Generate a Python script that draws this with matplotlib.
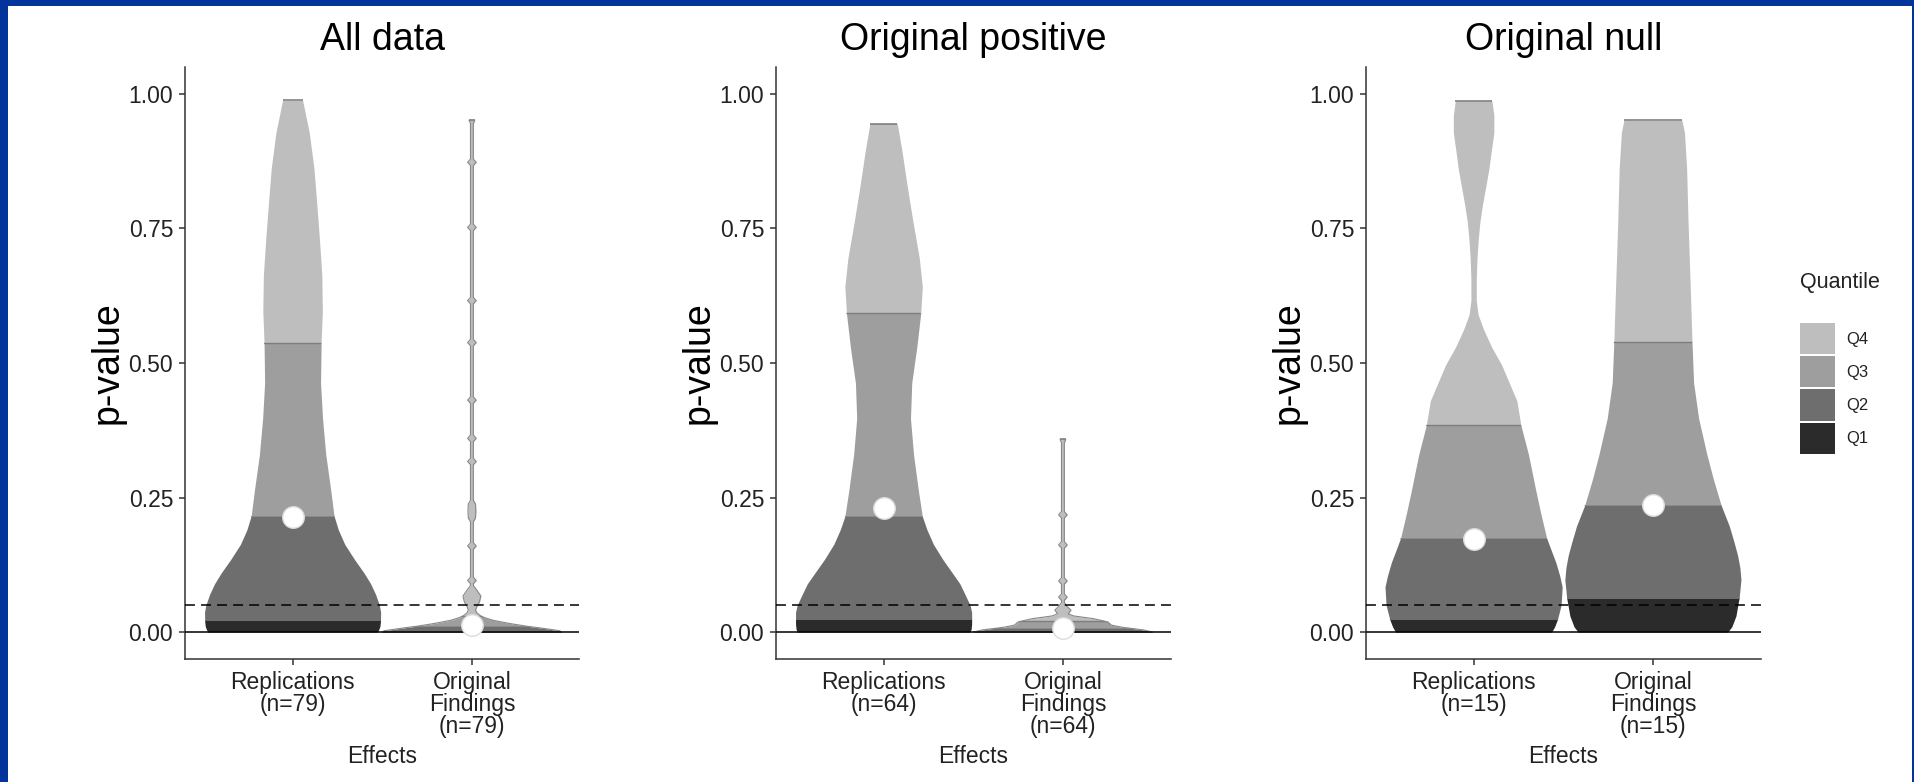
import matplotlib
matplotlib.use("Agg")
import matplotlib.pyplot as plt
from matplotlib.patches import Rectangle, Polygon, Patch
import numpy as np

plt.rcParams['font.family'] = ['Liberation Sans', 'DejaVu Sans']

# ---- data ----
panel_titles = ["All data", "Original positive", "Original null"]
group_names = [
    ["Replications\n(n=79)", "Original\nFindings\n(n=79)"],
    ["Replications\n(n=64)", "Original\nFindings\n(n=64)"],
    ["Replications\n(n=15)", "Original\nFindings\n(n=15)"],
]
quantiles = ["Q1", "Q2", "Q3", "Q4"]
q_colors = ["#2b2b2b", "#6e6e6e", "#9e9e9e", "#bebebe"]

# violin outlines: p-value levels and half widths
all_rep_p = [0.0, 0.005, 0.011, 0.020, 0.037, 0.050, 0.070, 0.090, 0.110, 0.135, 0.163, 0.190,
             0.216, 0.263, 0.330, 0.397, 0.463, 0.536, 0.596, 0.663, 0.729, 0.795, 0.862, 0.928, 0.988]
all_rep_w = [0.472, 0.481, 0.487, 0.490, 0.491, 0.484, 0.463, 0.435, 0.398, 0.345, 0.291, 0.255,
             0.231, 0.213, 0.185, 0.167, 0.156, 0.159, 0.166, 0.163, 0.150, 0.135, 0.119, 0.093, 0.056]
all_orig_p = [0.0, 0.0025, 0.007, 0.011, 0.016, 0.022, 0.027, 0.031, 0.036, 0.041, 0.047, 0.056,
              0.067, 0.078, 0.086, 0.090, 0.096, 0.102, 0.154, 0.160, 0.166, 0.205, 0.212, 0.225,
              0.238, 0.245, 0.311, 0.317, 0.323, 0.354, 0.360, 0.366, 0.425, 0.431, 0.437, 0.532,
              0.538, 0.544, 0.610, 0.616, 0.622, 0.746, 0.752, 0.758, 0.867, 0.873, 0.879, 0.945, 0.951]
all_orig_w = [0.50, 0.49, 0.397, 0.304, 0.21, 0.117, 0.07, 0.045, 0.027, 0.02, 0.027, 0.042,
              0.050, 0.027, 0.009, 0.008, 0.024, 0.008, 0.008, 0.024, 0.008, 0.008, 0.020, 0.022,
              0.020, 0.008, 0.008, 0.024, 0.008, 0.008, 0.024, 0.008, 0.008, 0.024, 0.008, 0.008,
              0.024, 0.008, 0.008, 0.024, 0.008, 0.008, 0.024, 0.008, 0.008, 0.024, 0.008, 0.008, 0.016]

pos_rep_p = [0.0, 0.005, 0.015, 0.037, 0.050, 0.070, 0.090, 0.110, 0.135, 0.163, 0.190, 0.215,
             0.263, 0.330, 0.397, 0.463, 0.529, 0.592, 0.642, 0.695, 0.762, 0.828, 0.895, 0.945]
pos_rep_w = [0.481, 0.488, 0.491, 0.491, 0.482, 0.454, 0.425, 0.383, 0.330, 0.278, 0.242, 0.216,
             0.194, 0.167, 0.150, 0.157, 0.185, 0.207, 0.216, 0.199, 0.164, 0.132, 0.102, 0.076]
pos_orig_p = [0.0, 0.004, 0.009, 0.013, 0.019, 0.025, 0.030, 0.034, 0.041, 0.048, 0.055, 0.059,
              0.065, 0.071, 0.089, 0.095, 0.101, 0.156, 0.162, 0.168, 0.212, 0.218, 0.224, 0.352, 0.358]
pos_orig_w = [0.50, 0.45, 0.33, 0.27, 0.25, 0.17, 0.06, 0.03, 0.045, 0.022, 0.008, 0.008,
              0.024, 0.008, 0.008, 0.024, 0.008, 0.008, 0.024, 0.008, 0.008, 0.024, 0.008, 0.008, 0.016]

null_rep_p = [0.0, 0.010, 0.024, 0.050, 0.084, 0.105, 0.130, 0.150, 0.175, 0.220, 0.263, 0.330,
              0.384, 0.430, 0.496, 0.530, 0.562, 0.590, 0.616, 0.655, 0.695, 0.730, 0.762, 0.795,
              0.828, 0.860, 0.895, 0.928, 0.961, 0.987]
null_rep_w = [0.435, 0.452, 0.468, 0.488, 0.494, 0.480, 0.458, 0.435, 0.407, 0.375, 0.347, 0.306,
              0.264, 0.241, 0.157, 0.100, 0.056, 0.025, 0.015, 0.015, 0.019, 0.026, 0.035, 0.050,
              0.068, 0.085, 0.099, 0.113, 0.113, 0.102]
null_orig_p = [0.0, 0.010, 0.030, 0.064, 0.097, 0.120, 0.143, 0.170, 0.197, 0.236, 0.283, 0.330,
               0.397, 0.463, 0.539, 0.663, 0.762, 0.862, 0.928, 0.951]
null_orig_w = [0.417, 0.440, 0.463, 0.481, 0.491, 0.485, 0.472, 0.450, 0.426, 0.380, 0.338, 0.301,
               0.255, 0.227, 0.218, 0.206, 0.196, 0.188, 0.176, 0.162]

# quantile cut points (Q1|Q2, Q2|Q3, Q3|Q4) and the white point
all_rep_cuts, all_rep_mid = [0.022, 0.216, 0.537], 0.213
all_orig_cuts, all_orig_mid = [0.002, 0.011, 0.030], 0.013
pos_rep_cuts, pos_rep_mid = [0.024, 0.215, 0.592], 0.230
pos_orig_cuts, pos_orig_mid = [0.002, 0.007, 0.020], 0.008
null_rep_cuts, null_rep_mid = [0.024, 0.175, 0.384], 0.173
null_orig_cuts, null_orig_mid = [0.064, 0.236, 0.539], 0.236

panels = [
    [(all_rep_p, all_rep_w, all_rep_cuts, all_rep_mid),
     (all_orig_p, all_orig_w, all_orig_cuts, all_orig_mid)],
    [(pos_rep_p, pos_rep_w, pos_rep_cuts, pos_rep_mid),
     (pos_orig_p, pos_orig_w, pos_orig_cuts, pos_orig_mid)],
    [(null_rep_p, null_rep_w, null_rep_cuts, null_rep_mid),
     (null_orig_p, null_orig_w, null_orig_cuts, null_orig_mid)],
]
thin_stem = [[False, True], [False, True], [False, False]]
sig_level = 0.05

W, H = 1914, 782
fig = plt.figure(figsize=(W / 100, H / 100), dpi=100, facecolor="#02349c")
fig.patches.append(Rectangle((8 / W, 0), (W - 10) / W, (H - 6) / H, transform=fig.transFigure,
                             facecolor="white", edgecolor="none", zorder=-1))

ink = "#222222"
lefts = [185, 776, 1366]


def draw_violin(ax, pos, p, w, cuts, mid, stem):
    p = np.asarray(p)
    w = np.asarray(w)
    edges = [p[0]] + list(cuts) + [p[-1]]
    for i in range(4):
        coll = ax.fill_betweenx(p, pos - w, pos + w, color=q_colors[i], lw=0, zorder=2)
        clip = Rectangle((pos - 0.7, edges[i]), 1.4, edges[i + 1] - edges[i], transform=ax.transData)
        coll.set_clip_path(clip)
    outline = Polygon(np.column_stack([np.r_[pos - w, (pos + w)[::-1]], np.r_[p, p[::-1]]]),
                      closed=True, transform=ax.transData)
    for c, col, lw in zip(cuts[1:], ["#8a8a8a", "#7e7e7e"], [0.7, 1.0]):
        ln = ax.hlines(c, pos - 0.7, pos + 0.7, colors=col, lw=lw, zorder=3)
        ln.set_clip_path(outline)
    ax.hlines(p[-1], pos - w[-1], pos + w[-1], colors="#777777", lw=1.1, zorder=3)
    if stem:
        ax.plot(np.r_[pos - w, (pos + w)[::-1]], np.r_[p, p[::-1]], color="#888888", lw=0.8, zorder=3)
    ax.plot(pos, mid, "o", ms=15.5, mfc="white", mec="#dcdcdc", mew=1, zorder=6)


for k, ax_left in enumerate(lefts):
    ax = fig.add_axes([ax_left / W, 1 - 659 / H, 394.5 / W, (659 - 67) / H])
    ax.set_facecolor("none")
    for j, (p, w, cuts, mid) in enumerate(panels[k]):
        draw_violin(ax, j + 1, p, w, cuts, mid, thin_stem[k][j])
    ax.axhline(0, color="black", lw=1.1, zorder=4)
    ax.axhline(sig_level, color="black", lw=1.1, ls=(0, (6.5, 4)), zorder=4)
    ax.set_xlim(0.4, 2.6)
    ax.set_ylim(-0.05, 1.05)
    ax.set_xticks([1, 2])
    ax.set_xticklabels(group_names[k], linespacing=0.95)
    ax.set_yticks([0, 0.25, 0.5, 0.75, 1.0])
    ax.set_yticklabels([f"{t:.2f}" for t in [0, 0.25, 0.5, 0.75, 1.0]])
    ax.tick_params(labelsize=16.5, labelcolor=ink, color="#333333", width=1.1, length=4.5, pad=4)
    for s in ["top", "right"]:
        ax.spines[s].set_visible(False)
    for s in ["left", "bottom"]:
        ax.spines[s].set_color("#333333")
        ax.spines[s].set_linewidth(1.1)
    ax.set_title(panel_titles[k], fontsize=27, pad=12, color="black")
    ax.set_ylabel("p-value", fontsize=27, color="black")
    ax.yaxis.set_label_coords(-0.15, 0.5)
    ax.set_xlabel("Effects", fontsize=16.5, color=ink)
    ax.xaxis.set_label_coords(0.5, -0.145)

handles = [Patch(facecolor=q_colors[i], edgecolor="none") for i in range(3, -1, -1)]
fig.legend(handles, quantiles[::-1], loc="upper left", bbox_to_anchor=(1800 / W, 1 - 323 / H),
           frameon=False, fontsize=12, handlelength=2.1, handleheight=2.5, labelspacing=0.12,
           handletextpad=0.7, borderpad=0, borderaxespad=0, labelcolor=ink)
fig.text(1800 / W, 1 - 288 / H, "Quantile", fontsize=15.5, color=ink, va="baseline")

fig.savefig("out.png", dpi=100, facecolor=fig.get_facecolor())
